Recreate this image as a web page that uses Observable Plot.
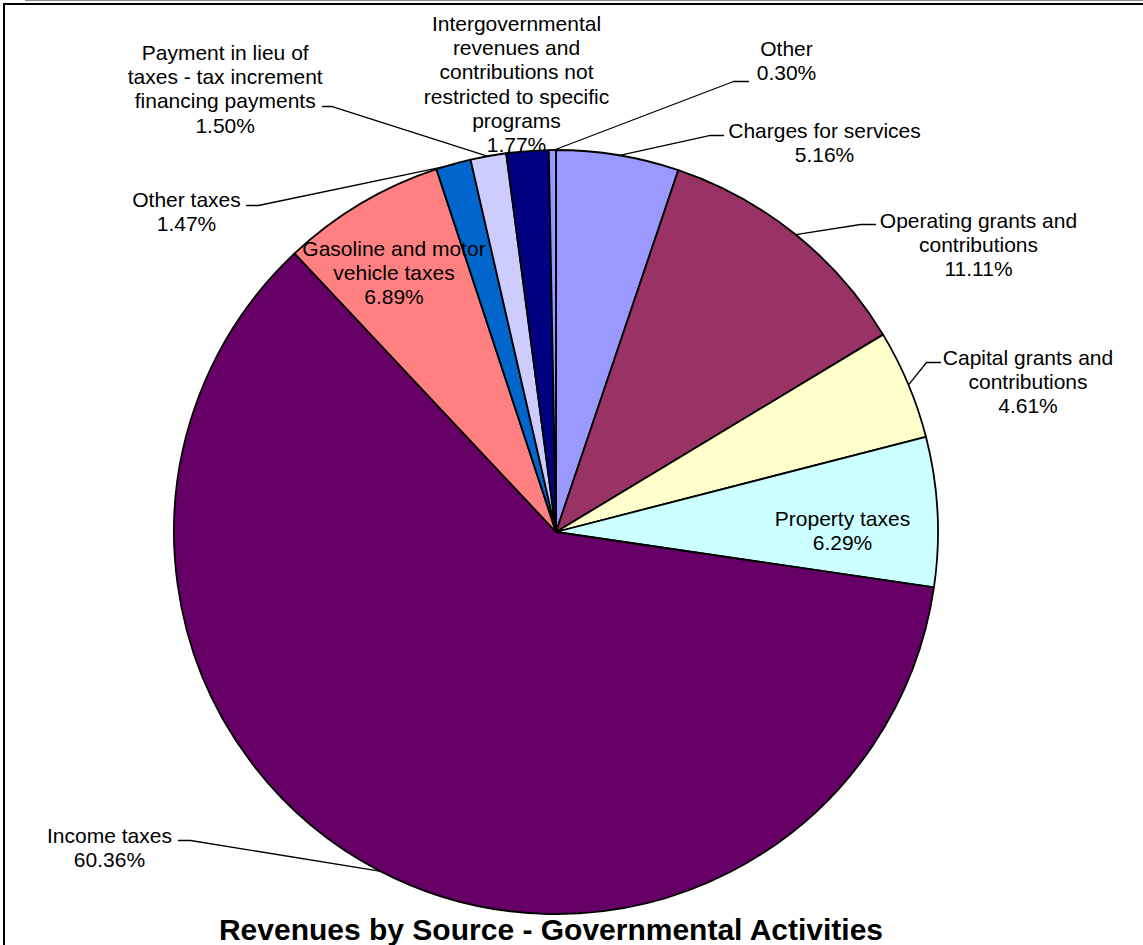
<!DOCTYPE html>
<html>
<head>
<meta charset="utf-8">
<script src="https://cdn.jsdelivr.net/npm/d3@7"></script>
<script src="https://cdn.jsdelivr.net/npm/@observablehq/plot@0.6"></script>
<style>
  html, body { margin: 0; padding: 0; background: #fff; }
  body { width: 1143px; height: 945px; overflow: hidden; position: relative;
         font-family: "Liberation Sans", Arial, Helvetica, sans-serif; }
  #chart { position: absolute; left: 0; top: 0; }
  #title { position: absolute; left: 0; top: 915px; width: 1102px; text-align: center;
           font-weight: bold; font-size: 30px; line-height: 30px; color: #000; }
  #frame { position: absolute; left: 3px; top: 3px; width: 1300px; height: 1100px;
           border-left: 2px solid #000; border-top: 2px solid #000; pointer-events: none; }
  #frame2 { position: absolute; left: 25px; top: 0px; width: 1300px; height: 1px;
           background: #8a8a8a; pointer-events: none; }
</style>
</head>
<body>
<div id="chart"></div>
<div id="title">Revenues by Source - Governmental Activities</div>
<div id="frame2"></div>
<div id="frame"></div>
<script>
// ---- data (clockwise from 12 o'clock) ----
const categories = [
  "Charges for services",
  "Operating grants and contributions",
  "Capital grants and contributions",
  "Property taxes",
  "Income taxes",
  "Gasoline and motor vehicle taxes",
  "Other taxes",
  "Payment in lieu of taxes - tax increment financing payments",
  "Intergovernmental revenues and contributions not restricted to specific programs",
  "Other"
];
const values = [5.16, 11.11, 4.61, 6.29, 60.36, 6.89, 1.47, 1.50, 1.77, 0.30];
const percentLabels = ["5.16%", "11.11%", "4.61%", "6.29%", "60.36%", "6.89%", "1.47%", "1.50%", "1.77%", "0.30%"];
const colors = ["#9999FF", "#993366", "#FFFFCC", "#CCFFFF", "#660066", "#FF8080", "#0066CC", "#CCCCFF", "#000080", "#9999FF"];

// label text broken into lines as in the original
const labelLines = [
  ["Charges for services"],
  ["Operating grants and", "contributions"],
  ["Capital grants and", "contributions"],
  ["Property taxes"],
  ["Income taxes"],
  ["Gasoline and motor", "vehicle taxes"],
  ["Other taxes"],
  ["Payment in lieu of", "taxes - tax increment", "financing payments"],
  ["Intergovernmental", "revenues and", "contributions not", "restricted to specific", "programs"],
  ["Other"]
];

// ---- layout (in pie-radius units, centre = 0,0) ----
const CX = 556, CY = 532, R = 382;
const labelX = [0.7016, 1.1047, 1.2343, 0.7487, -1.1702, -0.4254, -0.9686, -0.8673, -0.1047, 0.6021];
const labelY = [1.0783, 0.8427, 0.4840, 0.0626, -0.7673, 0.7694, 0.8976, 1.2825, 1.3584, 1.2929];
const insideLabel = [false, false, false, true, false, true, false, false, false, false];
const leaderKnee = [[0.4031, 1.0393], [0.7958, 0.8063], [0.9686, 0.4450], null, [-0.9581, -0.8063], null,
                    [-0.7801, 0.8560], [-0.5890, 1.1152], null, [0.4634, 1.1806]];
const leaderEnd  = [[0.4372, 1.0393], [0.8351, 0.8063], [1.0052, 0.4450], null, [-0.9895, -0.8063], null,
                    [-0.8115, 0.8560], [-0.6126, 1.1152], null, [0.5026, 1.1806]];

const FONT = "Liberation Sans, Arial, Helvetica, sans-serif";
const FS = 21, LH = 24.3;

const data = categories.map((name, i) => ({name, value: values[i]}));
const arcs = d3.pie().sort(null).value(d => d.value)(data);
const color = Plot.scale({color: {type: "ordinal", domain: categories, range: colors}});

const labels = data.map((d, i) => ({
  name: d.name,
  x: labelX[i], y: labelY[i],
  text: labelLines[i].concat([percentLabels[i]]).join("\n"),
  inside: insideLabel[i]
}));

const leaders = [];
arcs.forEach((a, i) => {
  if (!leaderKnee[i]) return;
  const mid = (a.startAngle + a.endAngle) / 2;
  leaders.push({name: a.data.name, x: Math.sin(mid), y: Math.cos(mid)});
  leaders.push({name: a.data.name, x: leaderKnee[i][0], y: leaderKnee[i][1]});
  leaders.push({name: a.data.name, x: leaderEnd[i][0], y: leaderEnd[i][1]});
});

function pieMark(index, scales, values, dimensions, context) {
  const sx = scales && scales.x ? scales.x : (v => CX + v * R);
  const sy = scales && scales.y ? scales.y : (v => CY - v * R);
  const cx = sx(0), cy = sy(0), r = sx(1) - sx(0);
  const arc = d3.arc().innerRadius(0).outerRadius(r);
  const g = d3.create("svg:g").attr("transform", `translate(${cx},${cy})`);
  g.selectAll("path").data(arcs).join("path")
    .attr("d", arc)
    .attr("fill", d => color.apply(d.data.name))
    .attr("stroke", "#000")
    .attr("stroke-width", 1.8)
    .attr("stroke-linejoin", "round");
  return g.node();
}

const textOpts = {
  x: "x", y: "y", text: "text",
  textAnchor: "middle", lineAnchor: "top",
  fontSize: FS, lineHeight: LH / FS, fill: "#000", fontFamily: FONT
};

const chart = Plot.plot({
  width: 1143,
  height: 915,
  margin: 0,
  style: {fontFamily: FONT, fontSize: FS + "px", background: "transparent", overflow: "visible"},
  x: {domain: [-1, 1], range: [CX - R, CX + R], axis: null},
  y: {domain: [-1, 1], range: [CY + R, CY - R], axis: null},
  marks: [
    Plot.text(labels.filter(d => !d.inside), textOpts),
    pieMark,
    Plot.text(labels.filter(d => d.inside), textOpts),
    Plot.line(leaders, {x: "x", y: "y", z: "name", stroke: "#000", strokeWidth: 1.3, curve: "linear"})
  ]
});
document.getElementById("chart").appendChild(chart);
</script>
</body>
</html>
